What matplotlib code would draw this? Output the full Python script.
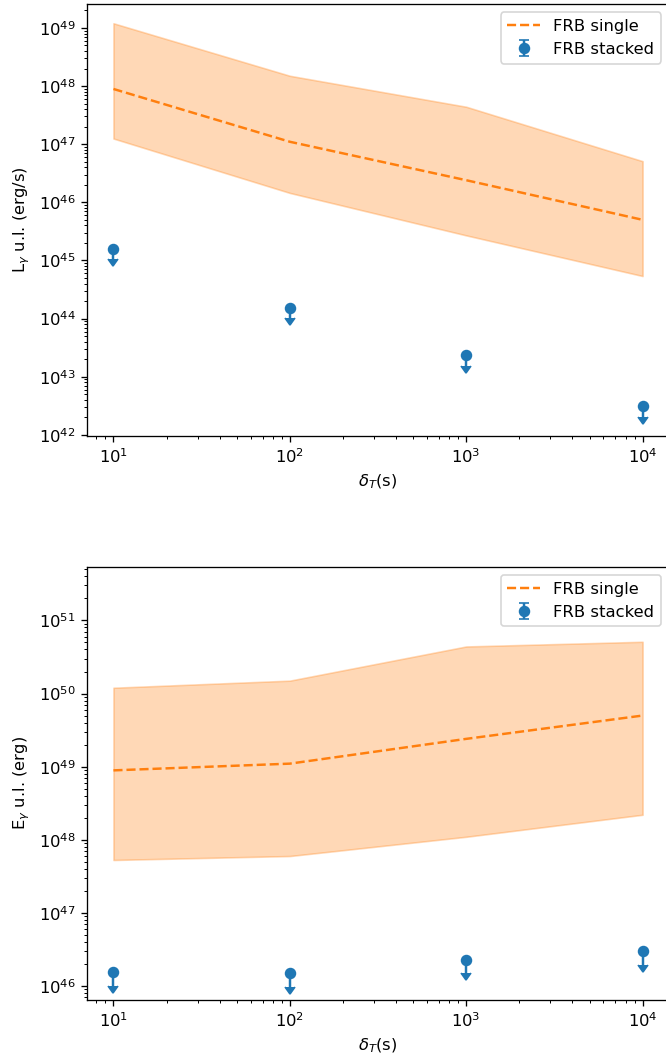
import numpy as np
import matplotlib
matplotlib.use("Agg")
import matplotlib.pyplot as plt

# time windows (s)
dT = [10, 100, 1000, 10000]

# luminosity panel
L_single = [8.9e47, 1.1e47, 2.4e46, 5.0e45]
L_single_hi = [1.2e49, 1.5e48, 4.4e47, 5.1e46]
L_single_lo = [1.25e47, 1.45e46, 2.7e45, 5.4e44]
L_stacked = [1.6e45, 1.55e44, 2.4e43, 3.1e42]

# energy panel
E_single = [8.9e48, 1.1e49, 2.4e49, 5.0e49]
E_single_hi = [1.2e50, 1.5e50, 4.4e50, 5.1e50]
E_single_lo = [5.3e47, 6.0e47, 1.1e48, 2.2e48]
E_stacked = [1.55e46, 1.5e46, 2.3e46, 3.0e46]

# rendered at a higher dpi so fonts/markers come out larger
fig = plt.figure(figsize=(666 / 118, 1061 / 118), dpi=118)
ax1 = fig.add_axes([0.1306, 0.589, 0.874, 0.4072])
ax2 = fig.add_axes([0.1306, 0.0575, 0.874, 0.4081])


def panel(ax, single, hi, lo, stacked, ylabel, ylim):
    ax.fill_between(dT, lo, hi, color="C1", alpha=0.3)
    ax.plot(dT, single, "--", color="C1", label="FRB single")
    st = np.array(stacked)
    ax.errorbar(dT, st, yerr=0.35 * st, uplims=True, fmt="o", color="C0",
                capsize=3, label="FRB stacked")
    ax.set_xscale("log")
    ax.set_yscale("log")
    ax.set_ylim(*ylim)
    ax.set_xlabel(r"$\delta_T$(s)")
    ax.set_ylabel(ylabel)
    ax.legend(loc="upper right")


panel(ax1, L_single, L_single_hi, L_single_lo, L_stacked,
      r"L$_\gamma$ u.l. (erg/s)", (10**41.98, 10**49.41))
panel(ax2, E_single, E_single_hi, E_single_lo, E_stacked,
      r"E$_\gamma$ u.l. (erg)", (10**45.81, 10**51.73))

fig.savefig("out.png", dpi=118)
